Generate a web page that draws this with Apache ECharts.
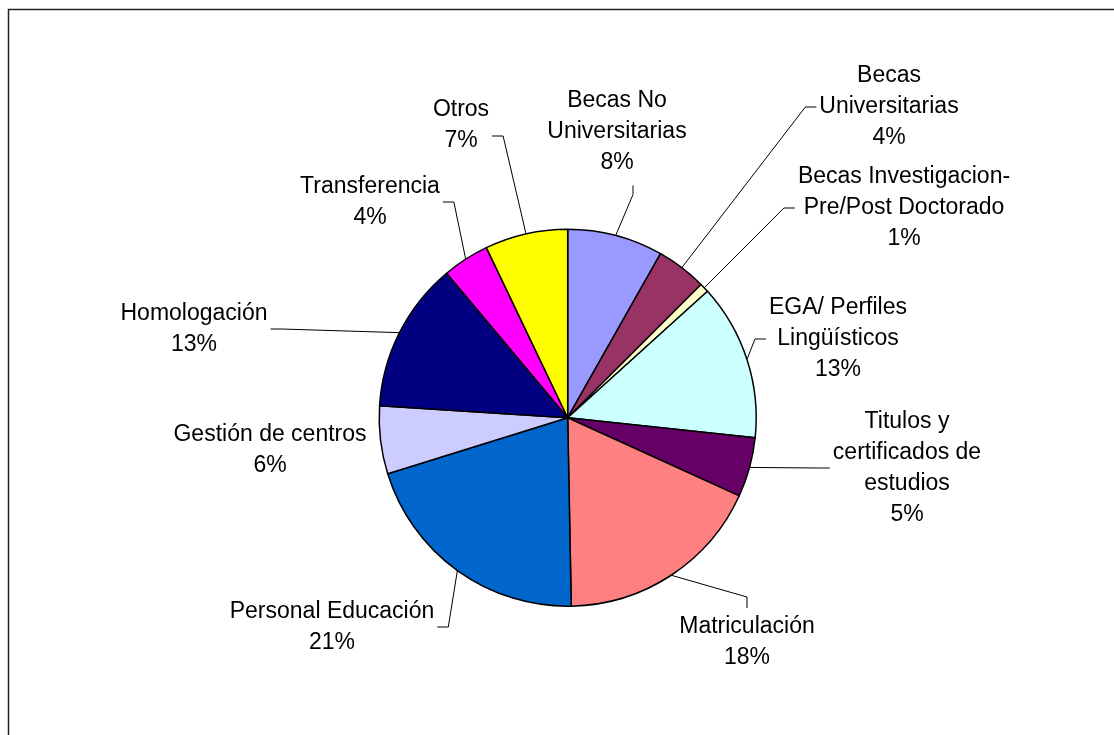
<!DOCTYPE html>
<html>
<head>
<meta charset="utf-8">
<script src="https://cdn.jsdelivr.net/npm/echarts@6/dist/echarts.min.js"></script>
<style>
html,body{margin:0;padding:0;background:#fff;}
#chart{width:1114px;height:735px;}
</style>
</head>
<body>
<div id="chart"></div>
<script>
// ---- data ----
const categories = [
  "Becas No\nUniversitarias",
  "Becas\nUniversitarias",
  "Becas Investigacion-\nPre/Post Doctorado",
  "EGA/ Perfiles\nLingüísticos",
  "Titulos y\ncertificados de\nestudios",
  "Matriculación",
  "Personal Educación",
  "Gestión de centros",
  "Homologación",
  "Transferencia",
  "Otros"
];
const values = [8.2, 4.3, 0.8, 13.4, 5.1, 17.9, 20.5, 5.8, 12.9, 4.0, 7.1];
const colors = ["#9999FF", "#993366", "#FFFFCC", "#CCFFFF", "#660066", "#FF8080",
                "#0066CC", "#CCCCFF", "#000080", "#FF00FF", "#FFFF00"];

// ---- label placement (layout only): centre x, centre y, side the leader joins, joint shift ----
const labelAt = [
  [617, 132, "bottom", 0],
  [889, 107, "left", 0],
  [904, 208, "left", 0],
  [838, 339, "left", 0],
  [907, 468, "left", 0],
  [747, 642, "top", 0],
  [332, 627, "right", 0],
  [270, 450, "none", 0],
  [194, 329, "right", 0],
  [370, 202, "right", 0],
  [461, 125, "right", 11]
];

const chart = echarts.init(document.getElementById('chart'), null, {renderer: 'canvas'});

const data = categories.map((c, i) => {
  const d = {name: c, value: values[i], itemStyle: {color: colors[i]}};
  if (labelAt[i][2] === 'none') d.labelLine = {show: false};
  return d;
});

chart.setOption({
  animation: false,
  backgroundColor: '#fff',
  graphic: [{
    type: 'polyline',
    shape: {points: [[8.5, 735], [8.5, 9.5], [1114, 9.5]]},
    style: {stroke: '#222', lineWidth: 1.5, fill: null},
    silent: true
  }],
  series: [{
    type: 'pie',
    center: [567.7, 417.7],
    radius: 188.5,
    startAngle: 90,
    clockwise: true,
    avoidLabelOverlap: false,
    percentPrecision: 0,
    data: data,
    itemStyle: {borderColor: '#000', borderWidth: 1.5},
    label: {
      show: true,
      position: 'outside',
      formatter: '{b}\n{d}%',
      fontFamily: '"Liberation Sans", Arial, sans-serif',
      fontSize: 23,
      lineHeight: 31,
      color: '#000',
      align: 'center'
    },
    labelLine: {show: true, length: 10, length2: 10, lineStyle: {color: '#000', width: 1}},
    emphasis: {disabled: true},
    labelLayout: function (p) {
      const L = labelAt[p.dataIndex];
      const cx = L[0], cy = L[1], side = L[2], shift = L[3];
      const w = p.labelRect.width, h = p.labelRect.height;
      const res = {x: cx, y: cy, align: 'center', verticalAlign: 'middle'};
      if (side !== 'none' && p.labelLinePoints) {
        const s = p.labelLinePoints[0];
        const gap = 3, stub = 11;
        let end, bend;
        if (side === 'left') { end = [cx - w / 2 - gap, cy + shift]; bend = [end[0] - stub, end[1]]; }
        else if (side === 'right') { end = [cx + w / 2 + gap, cy + shift]; bend = [end[0] + stub, end[1]]; }
        else if (side === 'top') { end = [cx, cy - h / 2 - gap]; bend = [cx, end[1] - stub]; }
        else { end = [cx + 16, cy + h / 2 + 7]; bend = [cx + 16, end[1] + 9]; }
        res.labelLinePoints = [[s[0], s[1]], bend, end];
      }
      return res;
    }
  }]
});
</script>
</body>
</html>
